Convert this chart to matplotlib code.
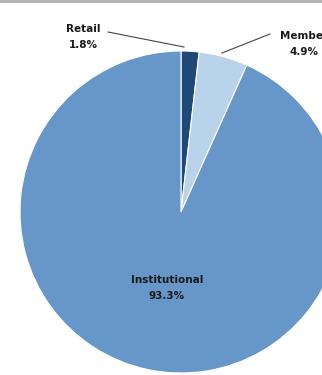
import matplotlib.pyplot as plt

labels = ["Retail", "Member", "Institutional"]
shares = [1.8, 4.9, 93.3]
colors = ["#1f4a78", "#b8d3ea", "#6797c9"]

fig = plt.figure(figsize=(3.22, 3.75), dpi=100)
ax = fig.add_axes([0, 0, 1, 1])

cx, cy, r = 181, 163, 161
ax.pie(shares, colors=colors, startangle=90, counterclock=False,
       center=(cx, cy), radius=r, frame=True,
       wedgeprops=dict(edgecolor="white", linewidth=0.8))
ax.set_xlim(0, 322)
ax.set_ylim(0, 375)
ax.set_aspect("equal")
ax.axis("off")

txt = dict(fontsize=7.5, fontweight="bold", color="#1a1a1a", ha="center", va="center",
           linespacing=1.8)
ax.text(83, 338, f"{labels[0]}\n{shares[0]}%", **txt)
ax.text(304, 331, f"{labels[1]}\n{shares[1]}%", **txt)
ax.text(167, 87, f"{labels[2]}\n{shares[2]}%", **txt)

# leader lines
ax.plot([108, 184], [343, 328], color="#444444", lw=0.8)
ax.plot([270, 222], [341, 322], color="#444444", lw=0.8)

# thin border along the top
ax.plot([0, 322], [374, 374], color="#b0b0b0", lw=2)

fig.savefig("out.png", dpi=100)
